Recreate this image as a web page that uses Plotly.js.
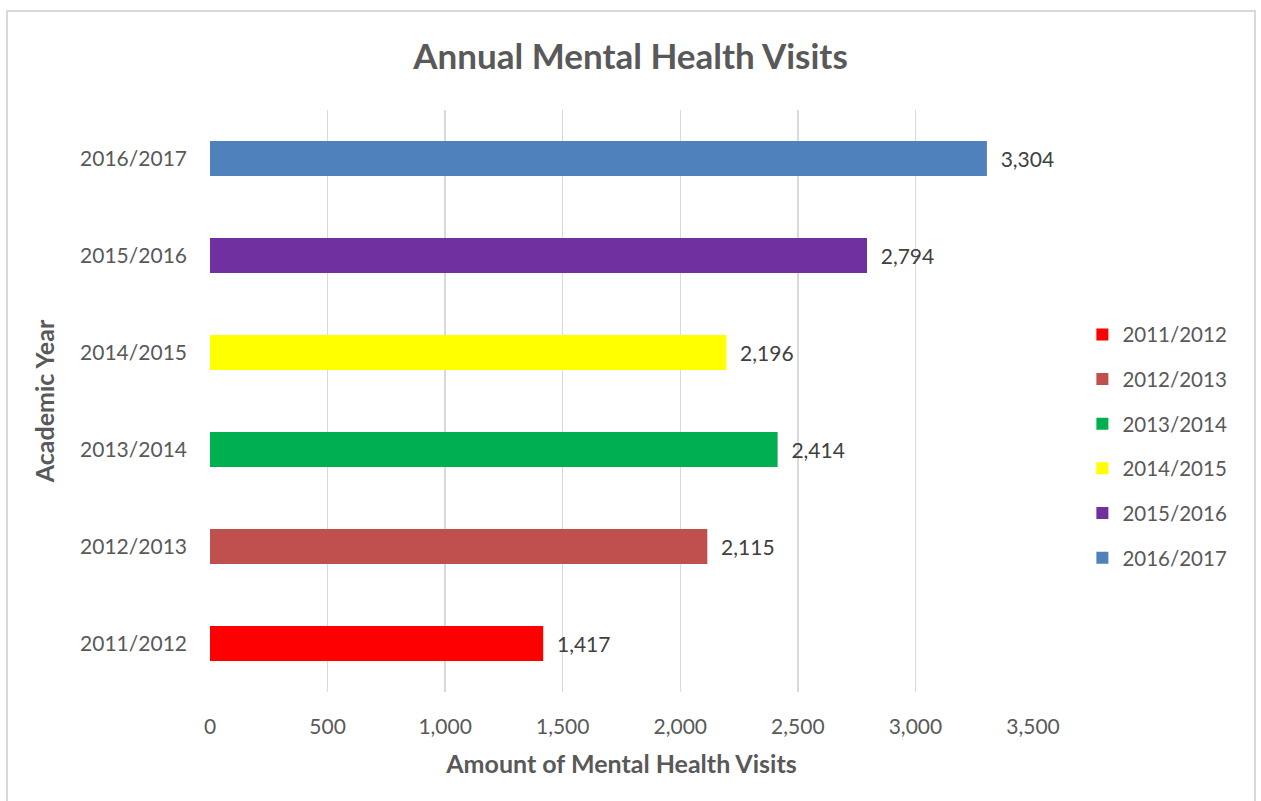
<!DOCTYPE html>
<html>
<head>
<meta charset="utf-8">
<script src="https://cdn.plot.ly/plotly-3.0.1.min.js"></script>
<style>
  html, body { margin: 0; padding: 0; background: #ffffff; }
  #chart { width: 1261px; height: 801px; }
</style>
</head>
<body>
<div id="chart"></div>
<script>
const years = ["2011/2012", "2012/2013", "2013/2014", "2014/2015", "2015/2016", "2016/2017"];
const visits = [1417, 2115, 2414, 2196, 2794, 3304];
const colors = ["#FF0000", "#C0504D", "#00B050", "#FFFF00", "#7030A0", "#4F81BD"];
const xTicks = [0, 500, 1000, 1500, 2000, 2500, 3000, 3500];

const FONT = "Lato, 'Open Sans', sans-serif";

const traces = years.map((y, i) => ({
  type: "bar",
  orientation: "h",
  name: y,
  legendgroup: y,
  y: [y],
  x: [visits[i]],
  width: 0.36,
  marker: { color: colors[i] },
  text: [visits[i]],
  texttemplate: "\u00a0\u00a0%{x:,}",
  textposition: "outside",
  cliponaxis: false,
  textfont: { family: FONT, size: 21, color: "#404040" },
  hoverinfo: "x+y"
}));

const layout = {
  width: 1261,
  height: 801,
  paper_bgcolor: "#ffffff",
  plot_bgcolor: "#ffffff",
  margin: { l: 210, r: 228, t: 110, b: 109 },
  barmode: "overlay",
  title: {
    text: "<b>Annual Mental Health Visits</b>",
    font: { family: FONT, size: 35, color: "#595959" },
    x: 0.5, xanchor: "center",
    y: 0.929, yanchor: "middle"
  },
  xaxis: {
    range: [0, 3500],
    tickvals: xTicks,
    ticktext: xTicks.map(v => v.toLocaleString("en-US")),
    showgrid: true,
    gridcolor: "#d9d9d9",
    gridwidth: 1.5,
    zeroline: false,
    showline: false,
    ticks: "",
    ticklabelstandoff: 20,
    tickfont: { family: FONT, size: 21, color: "#595959" },
    title: {
      text: "<b>Amount of Mental Health Visits</b>",
      font: { family: FONT, size: 25, color: "#595959" },
      standoff: 18
    },
    fixedrange: true
  },
  yaxis: {
    type: "category",
    categoryorder: "array",
    categoryarray: years,
    showgrid: false,
    zeroline: false,
    showline: false,
    ticks: "",
    ticklabelstandoff: 22,
    tickfont: { family: FONT, size: 21, color: "#595959" },
    title: {
      text: "<b>Academic Year</b>",
      font: { family: FONT, size: 25, color: "#595959" },
      standoff: 18
    },
    fixedrange: true
  },
  showlegend: true,
  legend: {
    x: 1.060, xanchor: "left",
    y: 0.6485, yanchor: "top",
    traceorder: "grouped",
    tracegroupgap: 15,
    font: { family: FONT, size: 20.5, color: "#595959" },
    itemwidth: 30,
    bgcolor: "rgba(0,0,0,0)"
  },
  shapes: [{
    type: "rect",
    xref: "paper", yref: "paper",
    x0: (7 - 210) / 823, x1: (1255 - 210) / 823,
    y0: (692 - 810) / 582, y1: (692 - 11) / 582,
    line: { color: "#d9d9d9", width: 2 },
    fillcolor: "rgba(0,0,0,0)",
    layer: "below"
  }]
};

Plotly.newPlot("chart", traces, layout, { displayModeBar: false, staticPlot: true });
</script>
</body>
</html>
